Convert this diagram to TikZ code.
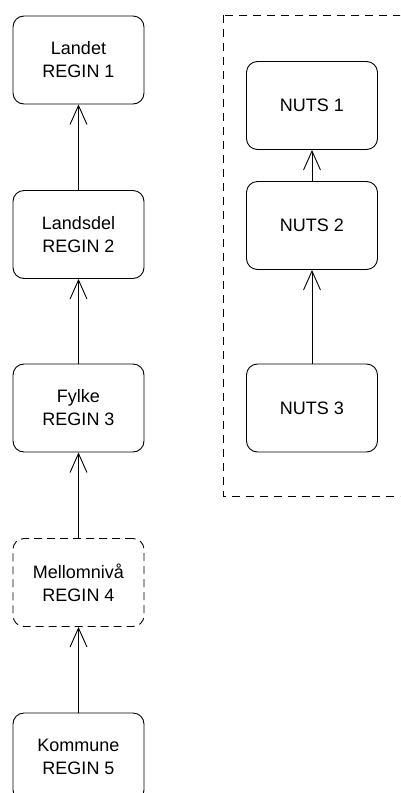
\documentclass[tikz,border=0pt]{standalone}
\usepackage{fontspec}
\setmainfont{Liberation Sans}
\usetikzlibrary{arrows.meta}
\tikzset{
  box/.style={draw, line width=0.9pt, rounded corners=11pt, minimum width=131pt, minimum height=88pt,
    inner sep=0pt, align=center, font=\fontsize{18}{23}\selectfont},
  dbox/.style={box, dash pattern=on 8pt off 5pt},
  link/.style={draw, line width=0.9pt, -{Straight Barb[length=19pt,width=17pt,line width=0.9pt]}},
  group/.style={draw, line width=0.9pt, dash pattern=on 8pt off 6pt}
}
\begin{document}
\begin{tikzpicture}[x=1pt,y=-1pt]
\useasboundingbox (0,0) rectangle (400,793);
\clip (0,0) rectangle (400,793);
\draw[group] (223,15) rectangle (412,496);
\node[box] (landet) at (78.5,60) {Landet\\REGIN 1};
\node[box] (landsdel) at (78.5,234.5) {Landsdel\\REGIN 2};
\node[box] (fylke) at (78.5,408) {Fylke\\REGIN 3};
\node[dbox] (mellom) at (78.5,582.5) {Mellomnivå\\REGIN 4};
\node[box] (kommune) at (78.5,757) {Kommune\\REGIN 5};
\node[box] (nuts1) at (312,105.5) {NUTS 1};
\node[box] (nuts2) at (312,225.5) {NUTS 2};
\node[box] (nuts3) at (312,408) {NUTS 3};
\path[link] (landsdel) -- (landet);
\path[link] (fylke) -- (landsdel);
\path[link] (mellom) -- (fylke);
\path[link] (kommune) -- (mellom);
\path[link] (nuts2) -- (nuts1);
\path[link] (nuts3) -- (nuts2);
\end{tikzpicture}
\end{document}
